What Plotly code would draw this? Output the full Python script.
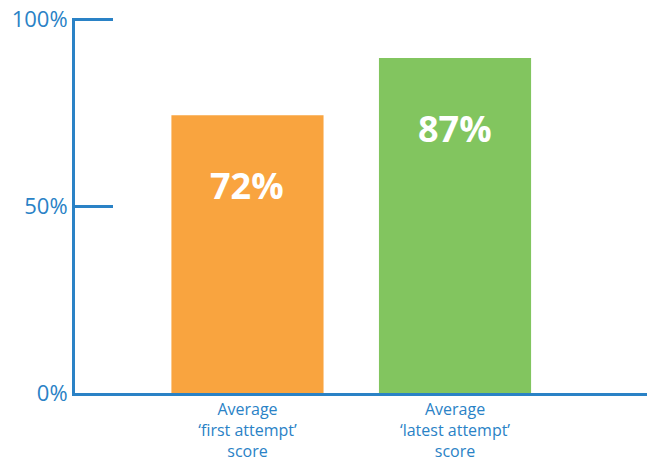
import plotly.graph_objects as go

categories = ["Average<br>‘first attempt’<br>score", "Average<br>‘latest attempt’<br>score"]
bar_heights = [74.3, 89.6]          # heights as drawn in the reference
bar_labels = ["72%", "87%"]         # printed values
bar_colors = ["#F9A43F", "#82C55F"]
tick_values = [0, 50, 100]
tick_labels = ["0%", "50%", "100%"]

BLUE = "#2A82C6"
FONT = "Open Sans"

fig = go.Figure()
fig.add_trace(go.Bar(
    x=[0, 1], y=bar_heights, width=0.733,
    marker=dict(color=bar_colors, line=dict(width=0)),
    hoverinfo="skip",
))

for i, (h, lab) in enumerate(zip(bar_heights, bar_labels)):
    fig.add_annotation(x=i, y=h, text=f"<b>{lab}</b>", showarrow=False,
                       yanchor="middle", yshift=-70,
                       font=dict(family=FONT, size=36, color="white"))

fig.update_layout(
    width=647, height=461,
    margin=dict(l=75, r=0, t=18, b=68),
    paper_bgcolor="white", plot_bgcolor="white",
    showlegend=False,
    xaxis=dict(
        range=[-0.831, 1.925], tickmode="array", tickvals=[0, 1], ticktext=categories,
        showline=True, linecolor=BLUE, linewidth=3, showgrid=False, zeroline=False,
        ticks="", tickfont=dict(family=FONT, size=16, color=BLUE), fixedrange=True,
    ),
    yaxis=dict(
        range=[0, 100.3], tickmode="array", tickvals=tick_values, ticktext=tick_labels,
        showline=True, linecolor=BLUE, linewidth=3, showgrid=False, zeroline=False,
        ticks="inside", ticklen=38, tickwidth=3, tickcolor=BLUE,
        tickfont=dict(family=FONT, size=22, color=BLUE), fixedrange=True,
    ),
)

fig.write_html("out.html", config={"displayModeBar": False},
               post_script="document.body.style.margin='0';document.body.style.overflow='hidden';")
